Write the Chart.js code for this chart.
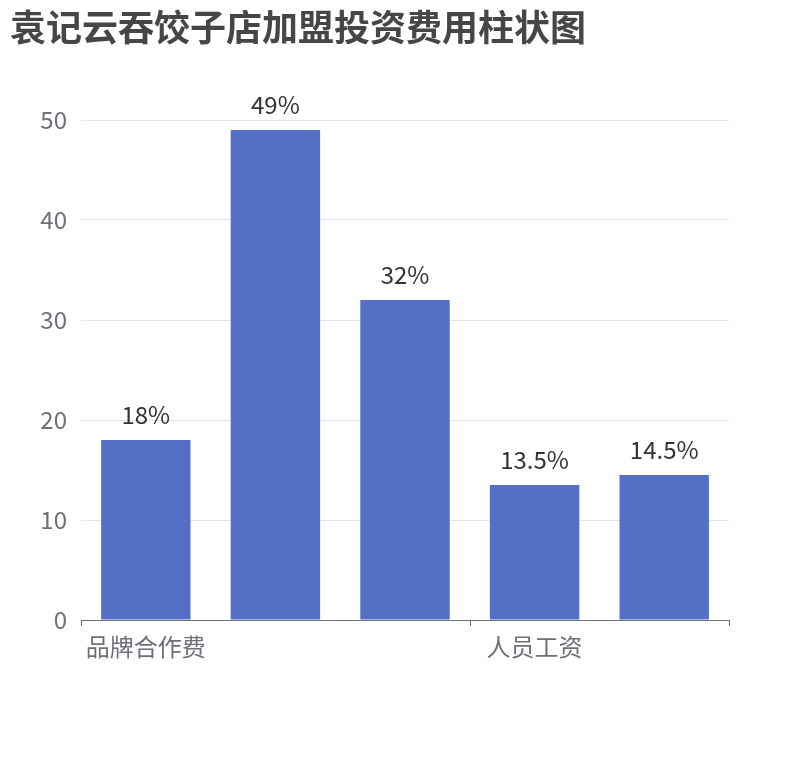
<!DOCTYPE html>
<html><head><meta charset="utf-8">
<script src="https://cdn.jsdelivr.net/npm/chart.js@4"></script>
<style>body{margin:0;background:#fff}#wrap{width:810px;height:760px}</style>
</head><body><div id="wrap"><canvas id="c" width="810" height="760"></canvas></div>
<script>
const chartTitle = "袁记云吞饺子店加盟投资费用柱状图";
const categories = ["品牌合作费", "店面装修费", "设备采购费", "人员工资", "流动资金"];
const values = [18, 49, 32, 13.5, 14.5];
const valueLabels = ["18%", "49%", "32%", "13.5%", "14.5%"];
const yTicks = [0, 10, 20, 30, 40, 50];
const shownLabelIdx = [0, 3];

const FONT = "'Noto Sans CJK SC', 'Noto Sans', sans-serif";

const titlePlugin = {
  id: 'ttl',
  afterDraw(chart) {
    const ctx = chart.ctx;
    ctx.save();
    ctx.font = "bold 36px " + FONT;
    ctx.fillStyle = "#464646";
    ctx.textBaseline = "middle";
    ctx.textAlign = "left";
    ctx.fillText(chartTitle, 10, 27);
    ctx.restore();
  }
};
const labelPlugin = {
  id: 'vlab',
  afterDatasetsDraw(chart) {
    const ctx = chart.ctx;
    const meta = chart.getDatasetMeta(0);
    ctx.save();
    ctx.font = "24px " + FONT;
    ctx.fillStyle = "#333333";
    ctx.textAlign = "center";
    ctx.textBaseline = "middle";
    meta.data.forEach((bar, i) => {
      ctx.fillText(valueLabels[i], bar.x, bar.y - 25);
    });
    ctx.restore();
  }
};
const tickPlugin = {
  id: 'xticks',
  afterDraw(chart) {
    const s = chart.scales.x;
    const ctx = chart.ctx;
    const half = (s.getPixelForValue(1) - s.getPixelForValue(0)) / 2;
    const bounds = [...shownLabelIdx.map(i => s.getPixelForValue(i) - half), s.right];
    ctx.save();
    ctx.strokeStyle = '#6e7079';
    ctx.lineWidth = 1;
    bounds.forEach(x => {
      const px = Math.max(Math.round(x), s.left) + 0.5;
      ctx.beginPath();
      ctx.moveTo(px, s.top);
      ctx.lineTo(px, s.top + 6);
      ctx.stroke();
    });
    ctx.restore();
  }
};

new Chart(document.getElementById('c'), {
  type: 'bar',
  data: {
    labels: categories,
    datasets: [{
      data: values,
      backgroundColor: '#5470c6',
      categoryPercentage: 1,
      barPercentage: 0.69
    }]
  },
  options: {
    responsive: false,
    animation: false,
    devicePixelRatio: 1,
    layout: { padding: { left: 0, right: 81, top: 120, bottom: 100 } },
    plugins: { legend: { display: false }, tooltip: { enabled: false }, title: { display: false } },
    scales: {
      x: {
        afterFit(s) { s.height = 40; },
        grid: { display: false },
        border: { display: true, color: '#6e7079', width: 1 },
        ticks: {
          autoSkip: false,
          maxRotation: 0,
          padding: 4,
          color: '#6e7079',
          font: { size: 24, family: FONT },
          callback: (v, i) => shownLabelIdx.includes(i) ? categories[i] : ''
        }
      },
      y: {
        afterFit(s) { s.width = 81; },
        min: yTicks[0],
        max: yTicks[yTicks.length - 1],
        afterBuildTicks(s) { s.ticks = yTicks.map(v => ({ value: v })); },
        grid: { color: '#e0e6f1', drawTicks: false, lineWidth: 1 },
        border: { display: false },
        ticks: {
          padding: 14,
          color: '#6e7079',
          font: { size: 24, family: FONT }
        }
      }
    }
  },
  plugins: [titlePlugin, labelPlugin, tickPlugin]
});
</script></body></html>
